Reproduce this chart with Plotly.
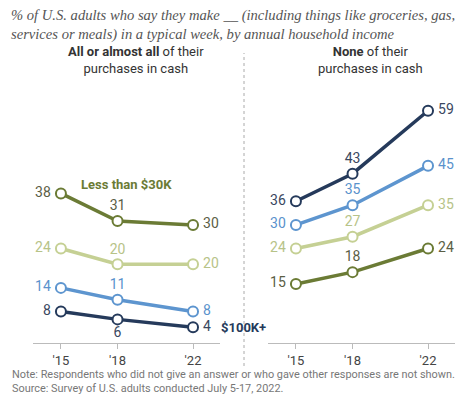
import plotly.graph_objects as go

years = [2015, 2018, 2022]
tick_labels = ["'15", "'18", "'22"]

series_names = ["Less than $30K", "$30K-$49,999", "$50K-$99,999", "$100K+"]
all_cash = {
    "Less than $30K": [38, 31, 30],
    "$30K-$49,999": [24, 20, 20],
    "$50K-$99,999": [14, 11, 8],
    "$100K+": [8, 6, 4],
}
no_cash = {
    "Less than $30K": [15, 18, 24],
    "$30K-$49,999": [24, 27, 35],
    "$50K-$99,999": [30, 35, 45],
    "$100K+": [36, 43, 59],
}

line_colors = {
    "Less than $30K": "#6b7b35",
    "$30K-$49,999": "#c5d094",
    "$50K-$99,999": "#5d95cf",
    "$100K+": "#253a5b",
}
text_colors = {
    "Less than $30K": "#5b5e45",
    "$30K-$49,999": "#b7c388",
    "$50K-$99,999": "#5a92cc",
    "$100K+": "#3a4760",
}
label_colors = {
    "Less than $30K": "#6b7b35",
    "$30K-$49,999": "#b5c37e",
    "$50K-$99,999": "#5a92cc",
    "$100K+": "#253a5b",
}

FONT = "Roboto, Liberation Sans, Arial, sans-serif"
fig = go.Figure()

def add_panel(data, xaxis, special_bottom=None):
    for name in series_names:
        vals = data[name]
        pos = ["middle left", "top center", "middle right"]
        if special_bottom == name:
            pos = ["middle left", "bottom center", "middle right"]
        labels = [f"{vals[0]}\u2009", f"{vals[1]}", f"\u2009{vals[2]}"]
        fig.add_trace(go.Scatter(
            x=years, y=vals, xaxis=xaxis, yaxis="y",
            mode="lines+markers+text",
            text=labels,
            textposition=pos,
            textfont=dict(family=FONT, size=14, color=text_colors[name]),
            line=dict(color=line_colors[name], width=3.5),
            marker=dict(size=10, color="white", line=dict(color=line_colors[name], width=2)),
            showlegend=False, cliponaxis=False, hoverinfo="skip",
        ))

add_panel(all_cash, "x", special_bottom="$100K+")
add_panel(no_cash, "x2")

xcommon = dict(
    range=[2013.52, 2023.43], tickvals=years, ticktext=tick_labels,
    ticks="outside", ticklen=5, tickcolor="#bbbbbb", showline=True,
    linecolor="#bbbbbb", linewidth=1, showgrid=False, zeroline=False,
    tickfont=dict(family=FONT, size=13, color="#444444"), fixedrange=True,
)
fig.update_layout(
    width=470, height=396,
    margin=dict(l=0, r=0, t=0, b=0),
    paper_bgcolor="white", plot_bgcolor="white",
    xaxis=dict(domain=[25 / 470, 212 / 470], anchor="y", **xcommon),
    xaxis2=dict(domain=[260 / 470, 447 / 470], anchor="y", **xcommon),
    yaxis=dict(domain=[(396 - 335) / 396, 1 - 90 / 396], range=[0, 62.23],
               visible=False, fixedrange=True),
)

ann = []
# Series labels
ann.append(dict(x=2018.5, y=40.2, xref="x", yref="y", text="<b>Less than $30K</b>",
                showarrow=False, font=dict(family=FONT, size=13, color=label_colors["Less than $30K"])))
ann.append(dict(x=2023.6, y=25.1, xref="x", yref="y", text="<b>$30K-$49,999</b>", xanchor="right",
                showarrow=False, font=dict(family=FONT, size=13, color=label_colors["$30K-$49,999"])))
ann.append(dict(x=2024.3, y=13.1, xref="x", yref="y", text="<b>$50K-$99,999</b>", xanchor="right",
                showarrow=False, font=dict(family=FONT, size=13, color=label_colors["$50K-$99,999"])))
ann.append(dict(x=2023.4, y=4, xref="x", yref="y", text="<b>$100K+</b>", xanchor="left",
                showarrow=False, font=dict(family=FONT, size=13, color=label_colors["$100K+"])))

# Panel titles
ann.append(dict(x=128 / 470, y=1 - 52 / 396, xref="paper", yref="paper",
                text="<b>All or almost all</b> of their<br>purchases in cash",
                showarrow=False, align="center", xanchor="center", yanchor="middle",
                font=dict(family=FONT, size=13, color="#333333")))
ann.append(dict(x=362 / 470, y=1 - 52 / 396, xref="paper", yref="paper",
                text="<b>None</b> of their<br>purchases in cash",
                showarrow=False, align="center", xanchor="center", yanchor="middle",
                font=dict(family=FONT, size=13, color="#333333")))

# Subtitle
ann.append(dict(x=2 / 470, y=1 + 2 / 396, xref="paper", yref="paper", xanchor="left", yanchor="top",
                text="% of U.S. adults who say they make __ (including things like groceries, gas,<br>"
                     "services or meals) in a typical week, by annual household income",
                showarrow=False, align="left", borderpad=0,
                font=dict(family="Liberation Serif, Times New Roman, serif", size=14.6,
                          color="#555555", style="italic")))

# Note
ann.append(dict(x=3 / 470, y=1 - 359 / 396, xref="paper", yref="paper", xanchor="left", yanchor="top",
                text="Note: Respondents who did not give an answer or who gave other responses are not shown.<br>"
                     "Source: Survey of U.S. adults conducted July 5-17, 2022.",
                showarrow=False, align="left", borderpad=0,
                font=dict(family=FONT, size=10.9, color="#777777")))
fig.update_layout(annotations=ann)

fig.add_shape(type="line", xref="paper", yref="paper",
              x0=236 / 470, x1=236 / 470, y0=1 - 358 / 396, y1=1 - 45 / 396,
              line=dict(color="#aaaaaa", width=1, dash="dot"))

fig.write_html("out.html")
